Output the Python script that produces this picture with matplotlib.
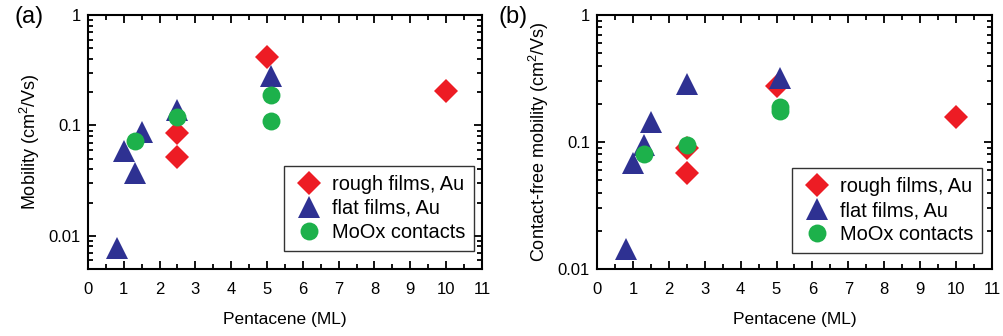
import matplotlib
matplotlib.use("Agg")
import matplotlib.pyplot as plt
from matplotlib.ticker import MultipleLocator, LogLocator, NullFormatter

plt.rcParams['font.family'] = ['Liberation Sans', 'DejaVu Sans']
plt.rcParams['mathtext.default'] = 'regular'

# panel (a): mobility
a_rough_x = [2.5, 2.5, 5.0, 10.0]
a_rough_y = [0.086, 0.0515, 0.415, 0.205]
a_flat_x = [0.8, 1.0, 1.3, 1.5, 2.5, 5.1]
a_flat_y = [0.0078, 0.059, 0.037, 0.087, 0.139, 0.279]
a_moox_x = [1.3, 2.5, 5.1, 5.1]
a_moox_y = [0.072, 0.12, 0.187, 0.109]

# panel (b): contact-free mobility
b_rough_x = [2.5, 2.5, 5.0, 10.0]
b_rough_y = [0.089, 0.057, 0.277, 0.157]
b_flat_x = [0.8, 1.0, 1.3, 1.5, 2.5, 5.1]
b_flat_y = [0.0144, 0.068, 0.094, 0.144, 0.285, 0.318]
b_moox_x = [1.3, 2.5, 5.1, 5.1]
b_moox_y = [0.081, 0.094, 0.177, 0.19]

RED = '#ed1c24'
BLUE = '#2e3192'
GREEN = '#1db14b'

fig = plt.figure(figsize=(10.04, 3.36), dpi=100)
ax1 = fig.add_axes([0.0876, 0.1994, 0.3924, 0.7556])
ax2 = fig.add_axes([0.5946, 0.1994, 0.3934, 0.7556])


def draw(ax, rx, ry, fx, fy, mx, my, ylim, ylabel, anchor):
    ax.plot(rx, ry, 'D', color=RED, ms=11.8, mew=0, label='rough films, Au', zorder=3)
    ax.plot(fx, fy, '^', color=BLUE, ms=15.6, mew=0, label='flat films, Au', zorder=3)
    ax.plot(mx, my, 'o', color=GREEN, ms=12.9, mew=0, label='MoOx contacts', zorder=4)
    ax.set_yscale('log')
    ax.set_xlim(0, 11)
    ax.set_ylim(*ylim)
    ax.xaxis.set_major_locator(MultipleLocator(1))
    ax.xaxis.set_minor_locator(MultipleLocator(0.5))
    ax.set_yticks([0.01, 0.1, 1])
    ax.set_yticklabels(['0.01', '0.1', '1'])
    ax.yaxis.set_minor_locator(LogLocator(base=10, subs=range(2, 10)))
    ax.yaxis.set_minor_formatter(NullFormatter())
    ax.tick_params(which='both', direction='in', top=True, right=True,
                   labelsize=12, width=1.3)
    ax.tick_params(which='major', length=6, pad=5)
    ax.tick_params(axis='x', which='major', pad=9)
    ax.tick_params(which='minor', length=3.5)
    for s in ax.spines.values():
        s.set_linewidth(1.5)
    ax.set_xlabel('Pentacene (ML)', fontsize=12.5, labelpad=11)
    ax.set_ylabel(ylabel, fontsize=13, labelpad=5)
    leg = ax.legend(loc='lower right', fontsize=14.4, frameon=True, fancybox=False,
                    edgecolor='black', borderpad=0.45, handletextpad=0.35,
                    labelspacing=0.25, handlelength=1.6, borderaxespad=0.0,
                    bbox_to_anchor=anchor)
    leg.get_frame().set_linewidth(1.0)


draw(ax1, a_rough_x, a_rough_y, a_flat_x, a_flat_y, a_moox_x, a_moox_y,
     (0.005, 1), 'Mobility (cm$^2$/Vs)', (0.98, 0.071))
draw(ax2, b_rough_x, b_rough_y, b_flat_x, b_flat_y, b_moox_x, b_moox_y,
     (0.01, 1), 'Contact-free mobility (cm$^2$/Vs)', (0.975, 0.063))

fig.text(0.014, 0.948, '(a)', fontsize=17, va='center', ha='left')
fig.text(0.497, 0.948, '(b)', fontsize=17, va='center', ha='left')

fig.savefig('out.png', dpi=100)
